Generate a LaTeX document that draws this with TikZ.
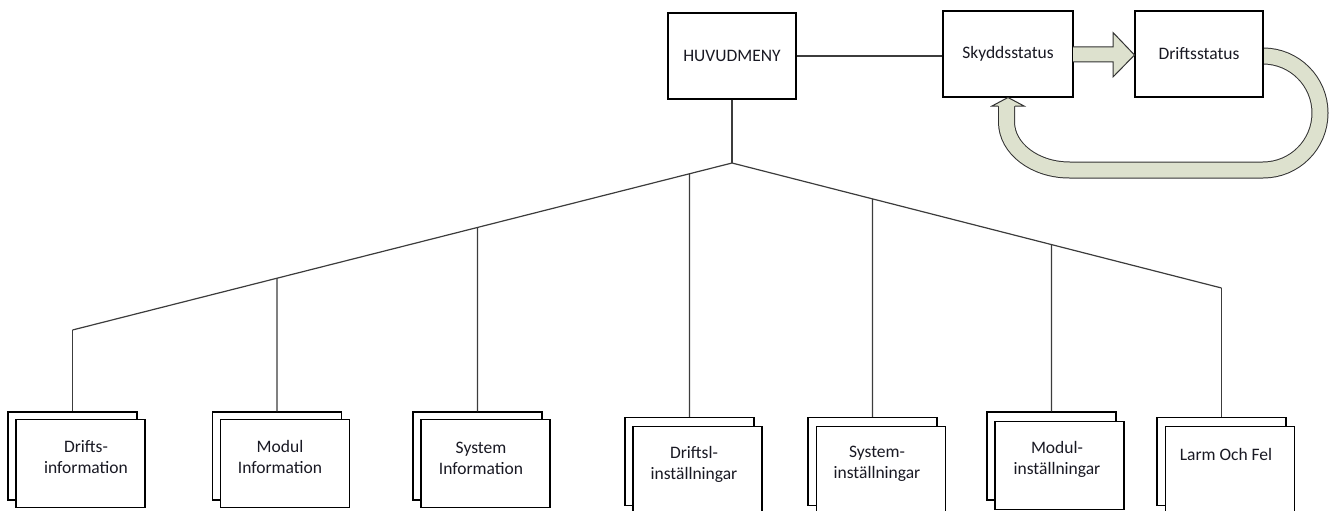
\documentclass[tikz,border=0pt]{standalone}
\usepackage{fontspec}
\setmainfont{Carlito}
\definecolor{bandfill}{RGB}{221,225,206}
\definecolor{bandedge}{RGB}{50,50,50}
\definecolor{wire}{RGB}{60,60,60}
\definecolor{ink}{RGB}{25,25,35}
\begin{document}
\begin{tikzpicture}[x=1pt,y=-1pt,
  every node/.style={font=\fontsize{17.5}{21}\selectfont, text=ink},
  mainbox/.style={draw=black, line width=1.2pt, fill=white,
    minimum width=128pt, minimum height=86pt, inner sep=0pt},
  pagebox/.style={draw=black, line width=1.2pt, fill=white,
    minimum width=129pt, minimum height=88pt, inner sep=0pt},
  lbl/.style={align=center, inner sep=0pt},
  wireline/.style={draw=wire, line width=1.2pt},
  band/.style={draw=bandedge, line width=1pt, double=bandfill, double distance=15pt},
  blockarrow/.style={draw=bandedge, line width=1pt, fill=bandfill, line join=miter}
]
\clip (0,0) rectangle (1331,511);

% return loop from Driftsstatus back to Skyddsstatus
\draw[band] (1263,56) .. controls (1294.5,56) and (1320,81.5) .. (1320,113)
  .. controls (1320,144.5) and (1294.5,170) .. (1263,170)
  -- (1069.5,170) .. controls (1034.7,170) and (1006.5,148.5) .. (1006.5,122)
  -- (1006.5,105);

% top row
\node[mainbox] (hm) at (732,56) {HUVUDMENY};
\node[mainbox, minimum width=130pt] (sk) at (1008,54) {Skyddsstatus};
\node[mainbox] (ds) at (1199,54) {Driftsstatus};

% head of the return loop
\draw[blockarrow] (998,106) -- (992,106) -- (1008,97.5) -- (1024,106) -- (1015,106);

% forward arrow Skyddsstatus -> Driftsstatus
\draw[blockarrow] (1073,47) -- (1113,47) -- (1113,32.5) -- (1134.5,55) -- (1113,77)
  -- (1113,62) -- (1073,62);

\draw[wireline] (hm.east) -- (hm.east -| sk.west);

% sub-menu pages (back sheet, front sheet)
\node[pagebox] (b1) at (72.5,456) {};
\node[pagebox] (f1) at (80.5,463.5) {};
\node[pagebox] (b2) at (277,456) {};
\node[pagebox] (f2) at (285,463.5) {};
\node[pagebox] (b3) at (477.5,456) {};
\node[pagebox] (f3) at (485.5,463.5) {};
\node[pagebox] (b4) at (689.5,461.5) {};
\node[pagebox] (f4) at (697.5,470.5) {};
\node[pagebox] (b5) at (872.5,461.5) {};
\node[pagebox] (f5) at (881,470.5) {};
\node[pagebox] (b6) at (1051.5,456) {};
\node[pagebox] (f6) at (1059.5,465.5) {};
\node[pagebox] (b7) at (1221.5,461.5) {};
\node[pagebox] (f7) at (1230,470.5) {};

\node[lbl] (l1) at (86,457) {Drifts-\\information};
\node[lbl] (l2) at (280,457) {Modul\\Information};
\node[lbl] (l3) at (481,458) {System\\Information};
\node[lbl] (l4) at (694,464) {Driftsl-\\inställningar};
\node[lbl] (l5) at (877,464) {System-\\inställningar};
\node[lbl] (l6) at (1057,459) {Modul-\\inställningar};
\node[lbl] (l7) at (1226,454) {Larm Och Fel};

% menu tree
\coordinate (j) at (732,163);
\coordinate (jl) at (b1.north |- 0,330);
\coordinate (jr) at (b7.north |- 0,288);
\draw[wireline] (hm.south) -- (j);
\draw[wireline] (jl) -- (j) -- (jr);
\draw[wireline] (jl) -- (b1.north);
\draw[wireline] (intersection of j--jl and b2.north--b2.south) -- (b2.north);
\draw[wireline] (intersection of j--jl and b3.north--b3.south) -- (b3.north);
\draw[wireline] (intersection of j--jl and b4.north--b4.south) -- (b4.north);
\draw[wireline] (intersection of j--jr and b5.north--b5.south) -- (b5.north);
\draw[wireline] (intersection of j--jr and b6.north--b6.south) -- (b6.north);
\draw[wireline] (jr) -- (b7.north);
\end{tikzpicture}
\end{document}
